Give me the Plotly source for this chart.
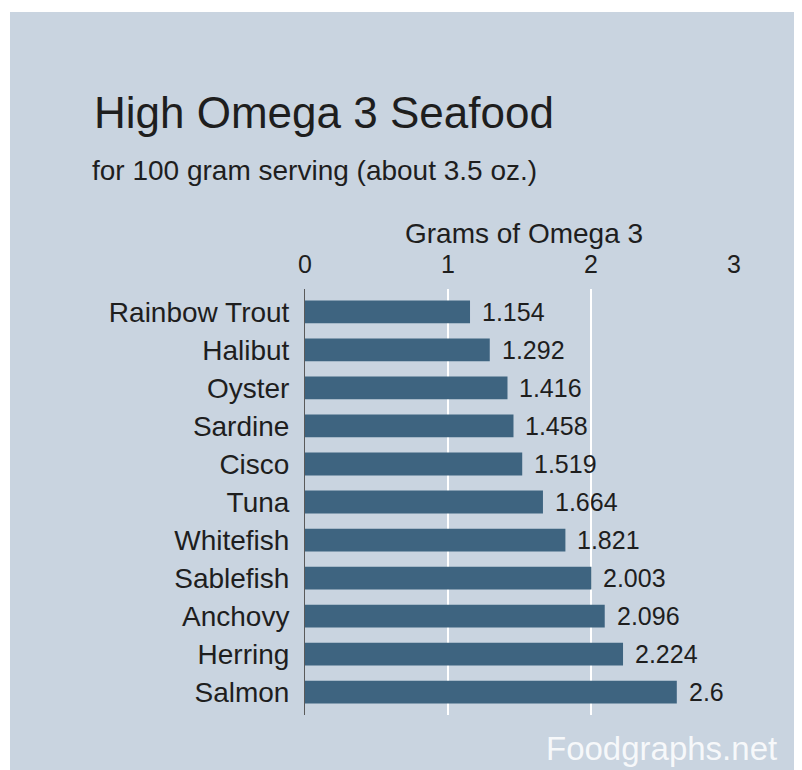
import plotly.graph_objects as go

# ---- data ----
fish = ["Rainbow Trout", "Halibut", "Oyster", "Sardine", "Cisco", "Tuna",
        "Whitefish", "Sablefish", "Anchovy", "Herring", "Salmon"]
omega3 = [1.154, 1.292, 1.416, 1.458, 1.519, 1.664, 1.821, 2.003, 2.096, 2.224, 2.6]
x_ticks = [0, 1, 2, 3]
grid_values = [1, 2]

title_text = "High Omega 3 Seafood"
subtitle_text = "for 100 gram serving (about 3.5 oz.)"
axis_title = "Grams of Omega 3"
watermark = "Foodgraphs.net"

# ---- style ----
BG = "#c9d4e0"
BAR = "#3e6480"
TXT = "#1e1e1e"
FONT = "Liberation Sans, Arial, Helvetica, sans-serif"

OFF = 8                      # default page margin of the html body
PAGE_W, PAGE_H = 802, 770
W, H = PAGE_W, PAGE_H
# plot area in page pixels
P_LEFT, P_RIGHT, P_TOP, P_BOTTOM = 305, 734, 289, 715
ML = P_LEFT - OFF
MT = P_TOP - OFF
MR = W - (P_RIGHT - OFF)
MB = H - (P_BOTTOM - OFF)
PW = P_RIGHT - P_LEFT
PH = P_BOTTOM - P_TOP


def xp(px):
    return (px - P_LEFT) / PW


def yp(py):
    return (P_BOTTOM - py) / PH


fig = go.Figure()
fig.add_trace(go.Bar(
    x=omega3, y=fish, orientation="h",
    marker=dict(color=BAR, line=dict(width=0)),
    hoverinfo="x+y",
))

annotations = []
for v, f in zip(omega3, fish):
    annotations.append(dict(
        x=v, y=f, xref="x", yref="y", text=str(v), showarrow=False,
        xanchor="left", yanchor="middle", xshift=10,
        font=dict(size=25, color=TXT, family=FONT),
    ))

annotations += [
    dict(x=xp(92), y=yp(112), xref="paper", yref="paper", text=title_text,
         showarrow=False, xanchor="left", yanchor="middle",
         font=dict(size=44, color=TXT, family=FONT)),
    dict(x=xp(90), y=yp(170), xref="paper", yref="paper", text=subtitle_text,
         showarrow=False, xanchor="left", yanchor="middle",
         font=dict(size=28, color=TXT, family=FONT)),
    dict(x=xp(524), y=yp(233), xref="paper", yref="paper", text=axis_title,
         showarrow=False, xanchor="center", yanchor="middle",
         font=dict(size=28, color=TXT, family=FONT)),
    dict(x=xp(544), y=yp(769), xref="paper", yref="paper", text=watermark,
         showarrow=False, xanchor="left", yanchor="bottom",
         font=dict(size=33, color="rgba(255,255,255,0.85)", family=FONT)),
]

shapes = []
for g in grid_values:
    shapes.append(dict(type="line", xref="x", yref="paper", x0=g, x1=g, y0=0, y1=1,
                       line=dict(color="white", width=2), layer="below"))
# white frame strips (top and left), on top of the body margin
shapes.append(dict(type="rect", xref="paper", yref="paper",
                   x0=xp(0), x1=xp(PAGE_W + OFF), y0=yp(12), y1=yp(0),
                   fillcolor="white", line=dict(width=0), layer="above"))
shapes.append(dict(type="rect", xref="paper", yref="paper",
                   x0=xp(0), x1=xp(10), y0=yp(PAGE_H + OFF), y1=yp(0),
                   fillcolor="white", line=dict(width=0), layer="above"))

fig.update_layout(
    width=W, height=H,
    margin=dict(l=ML, r=MR, t=MT, b=MB, pad=0),
    paper_bgcolor=BG, plot_bgcolor=BG,
    showlegend=False,
    bargap=0.4,
    font=dict(family=FONT, color=TXT),
    annotations=annotations,
    shapes=shapes,
    xaxis=dict(
        side="top", range=[0, 3], tickvals=x_ticks,
        showgrid=False, zeroline=False, showline=False, ticks="",
        tickfont=dict(size=25, color=TXT, family=FONT),
        ticklabelstandoff=10,
        fixedrange=True,
    ),
    yaxis=dict(
        type="category", categoryorder="array", categoryarray=fish,
        range=[len(fish) - 0.4, -0.6],
        showgrid=False, zeroline=False,
        showline=True, linecolor="#5a5a5a", linewidth=1,
        ticks="", tickfont=dict(size=28, color=TXT, family=FONT),
        ticklabelstandoff=9,
        fixedrange=True,
    ),
)

fig.write_html("out.html", config={"displayModeBar": False})
